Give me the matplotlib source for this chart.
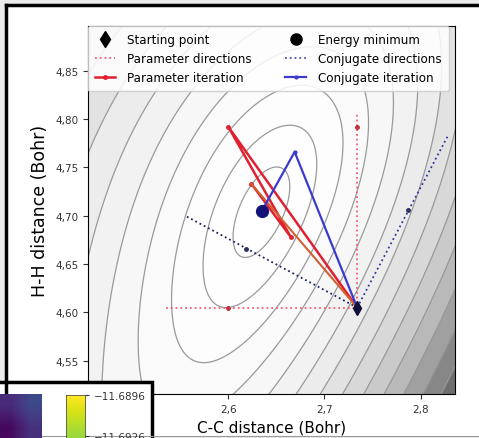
import numpy as np
import matplotlib.pyplot as plt
from matplotlib.lines import Line2D
from matplotlib.patches import Rectangle
from matplotlib.colors import Normalize

# Path data (C-C distance, H-H distance) in Bohr
start_point = (2.734, 4.605)
energy_minimum = (2.635, 4.705)

# Parameter directions: search line ends and the minimum found on each line
param_dir_x = [[2.535, 2.734], [2.734, 2.734]]
param_dir_y = [[4.605, 4.605], [4.605, 4.805]]
param_dir_min_x = [2.600, 2.734]
param_dir_min_y = [4.605, 4.792]

# Parameter iteration path
param_iter_x = [2.734, 2.600, 2.665, 2.624, 2.734]
param_iter_y = [4.605, 4.792, 4.678, 4.733, 4.605]

# Conjugate directions
conj_dir_x = [[2.557, 2.734], [2.734, 2.828]]
conj_dir_y = [[4.699, 4.605], [4.605, 4.782]]
conj_dir_min_x = [2.618, 2.787]
conj_dir_min_y = [4.666, 4.706]

# Conjugate iteration path
conj_iter_x = [2.734, 2.669, 2.635]
conj_iter_y = [4.605, 4.766, 4.705]

# Energy surface model around the minimum (units of 0.1 Bohr)
hess_xx = 1.0
hess_xy = -0.35
hess_yy = 0.398
cubic_stiff = 0.18
cubic_soft = 0.03
stiff_dir = (0.909, -0.417)
soft_dir = (0.417, 0.909)
contour_levels = [0.06, 0.24, 0.54, 0.96, 1.5, 2.16, 2.94, 3.84, 4.86, 6.0, 7.26, 8.64, 10.1, 11.8, 13.5]

xticks = [2.6, 2.7, 2.8]
xtick_labels = ["2,6", "2,7", "2,8"]
yticks = [4.55, 4.60, 4.65, 4.70, 4.75, 4.80, 4.85]
ytick_labels = ["4,55", "4,60", "4,65", "4,70", "4,75", "4,80", "4,85"]

# Inset colorbar values
cbar_ticks = [-11.6896, -11.6926]
cbar_labels = ["\u221211.6896", "\u221211.6926"]

fig = plt.figure(figsize=(4.79, 4.39), dpi=100, facecolor="#ebebeb")

# white page with black frame (top and left edges visible)
fig.add_artist(Rectangle((6 / 479, 2 / 439), 1.0, 1 - 8 / 439, transform=fig.transFigure,
                         facecolor="white", edgecolor="none", zorder=-1))
fig.add_artist(Line2D([6 / 479, 1.0], [1 - 6 / 439, 1 - 6 / 439], transform=fig.transFigure,
                      color="black", lw=2.5))
fig.add_artist(Line2D([6 / 479, 6 / 479], [0.0, 1 - 6 / 439], transform=fig.transFigure,
                      color="black", lw=2.5))
fig.add_artist(Line2D([0.0, 1.0], [2 / 439, 2 / 439], transform=fig.transFigure,
                      color="#9a9a9a", lw=0.8))

ax = fig.add_axes([88 / 479, 1 - 395 / 439, 367 / 479, 368 / 439])

# Energy surface
gx = np.linspace(2.44, 2.85, 300)
gy = np.linspace(4.50, 4.91, 300)
X, Y = np.meshgrid(gx, gy)
u = (X - energy_minimum[0]) / 0.1
v = (Y - energy_minimum[1]) / 0.1
ws = stiff_dir[0] * u + stiff_dir[1] * v
wf = soft_dir[0] * u + soft_dir[1] * v
E = (hess_xx * u ** 2 + 2 * hess_xy * u * v + hess_yy * v ** 2
     + cubic_stiff * ws ** 3 + cubic_soft * wf ** 3)
E = E - E.min()

ax.contourf(X, Y, E, levels=[0] + contour_levels + [100], cmap="Greys",
            norm=Normalize(vmin=0, vmax=17))
ax.contour(X, Y, E, levels=contour_levels, colors="#9a9a9a", linewidths=0.9)

# Parameter directions
for xs, ys in zip(param_dir_x, param_dir_y):
    ax.plot(xs, ys, ":", color="#f06070", lw=1.3)
ax.plot(param_dir_min_x, param_dir_min_y, ".", color="#c03040", ms=5, ls="none")

# Conjugate directions
ax.plot(conj_dir_x[0], conj_dir_y[0], ":", color="#1c2260", lw=1.3)
ax.plot(conj_dir_x[1], conj_dir_y[1], ":", color="#3038a0", lw=1.3)
ax.plot(conj_dir_min_x, conj_dir_min_y, ".", color="#303060", ms=5, ls="none")

# Iterations
ax.plot(param_iter_x[:4], param_iter_y[:4], "-", color="#e02030", lw=1.8, marker=".", ms=5)
ax.plot(param_iter_x[3:], param_iter_y[3:], "-", color="#d06030", lw=1.5)
ax.plot(conj_iter_x, conj_iter_y, "-", color="#3a3ad0", lw=1.6, marker=".", ms=4)

ax.plot(*start_point, marker="d", color="#10103a", ms=7, ls="none")
ax.plot(*energy_minimum, marker="o", color="#141478", ms=8.5, ls="none")

ax.set_xlim(2.4542, 2.8357)
ax.set_ylim(4.5156, 4.8962)
ax.set_xticks(xticks)
ax.set_xticklabels(xtick_labels)
ax.set_yticks(yticks)
ax.set_yticklabels(ytick_labels)
ax.tick_params(labelsize=7.5, colors="#333333")
ax.set_xlabel("C-C distance (Bohr)", fontsize=11, labelpad=4)
ax.set_ylabel("H-H distance (Bohr)", fontsize=12.5, labelpad=4)

handles = [
    Line2D([], [], marker="d", color="black", ls="none", ms=8),
    Line2D([], [], ls=":", color="#f06070", lw=1.3),
    Line2D([], [], ls="-", color="#e02030", lw=1.8, marker=".", ms=5),
    Line2D([], [], marker="o", color="black", ls="none", ms=8),
    Line2D([], [], ls=":", color="#5050c8", lw=1.3),
    Line2D([], [], ls="-", color="#3a3ad0", lw=1.6, marker=".", ms=4),
]
labels = ["Starting point", "Parameter directions", "Parameter iteration",
          "Energy minimum", "Conjugate directions", "Conjugate iteration"]
ax.legend(handles, labels, ncol=2, loc="upper left", bbox_to_anchor=(0.0, 1.0),
          fontsize=8.6, borderaxespad=0.0, handlelength=1.7, handletextpad=1.0,
          columnspacing=2.8, labelspacing=0.5, borderpad=0.6, framealpha=0.85)

# Inset panel in the bottom-left corner
fig.add_artist(Rectangle((-0.02, -0.05), (152 + 0.02 * 479) / 479, 0.05 + 1 - 383 / 439,
                         transform=fig.transFigure, facecolor="white",
                         edgecolor="black", lw=2.5, zorder=1))

img_ax = fig.add_axes([0, 0, 42 / 479, 44 / 439])
img_ax.set_zorder(2)
purple_vals = [[0.12, 0.22], [0.02, 0.14]]
img_ax.imshow(purple_vals, cmap="viridis", vmin=0, vmax=1, aspect="auto",
              interpolation="bilinear")
img_ax.axis("off")

cb_ax = fig.add_axes([66 / 479, -6 / 439, 19 / 479, 49 / 439])
cb_ax.set_zorder(2)
cb_y = np.linspace(-11.69319, -11.6896, 50)
cb_ax.imshow(cb_y[::-1, None], cmap="viridis", aspect="auto",
             norm=Normalize(vmin=-11.7096, vmax=-11.6896),
             extent=[0, 1, -11.69319, -11.6896])
cb_ax.set_ylim(-11.69319, -11.6896)
cb_ax.set_xticks([])
cb_ax.yaxis.tick_right()
cb_ax.set_yticks(cbar_ticks)
cb_ax.set_yticklabels(cbar_labels)
cb_ax.tick_params(labelsize=7.5, colors="#333333", length=3)
for sp in cb_ax.spines.values():
    sp.set_color("#555555")
    sp.set_linewidth(0.6)

fig.savefig("out.png", dpi=100, facecolor=fig.get_facecolor())
